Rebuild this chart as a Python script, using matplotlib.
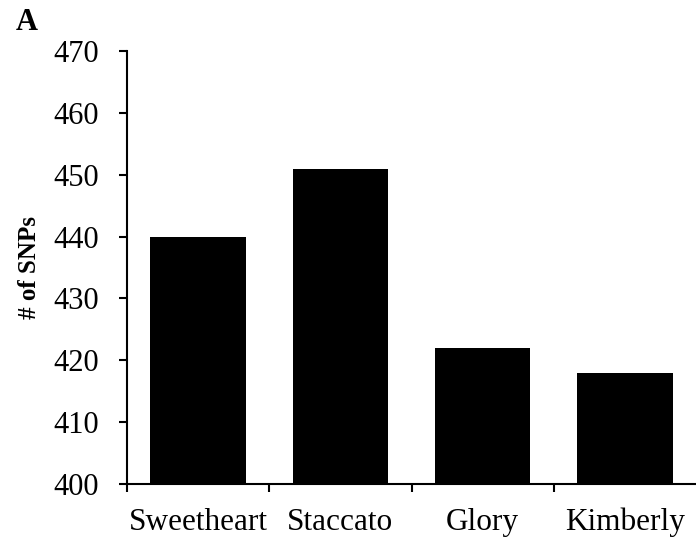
import matplotlib
matplotlib.use("Agg")
import matplotlib.pyplot as plt
import numpy as np

# cultivars and SNP counts
cultivars = ["Sweetheart", "Staccato", "Glory", "Kimberly"]
snps = [440, 451, 422, 418]
yticks = [400, 410, 420, 430, 440, 450, 460, 470]

plt.rcParams["font.family"] = ["Liberation Serif", "DejaVu Serif"]

fig = plt.figure(figsize=(6.96, 5.43), dpi=100)
ax = fig.add_axes([0.1825, 0.1087, 0.8175, 0.7973])

x = np.arange(len(cultivars))
ax.bar(x, snps, width=0.67, color="black", edgecolor="none")

ax.set_xlim(-0.5, len(cultivars) - 0.5)
ax.set_ylim(400, 470)
ax.set_yticks(yticks)
ax.tick_params(axis="y", direction="out", length=6, width=1.5, labelsize=22, pad=14)

# labels in the middle, tick marks between the categories
ax.set_xticks(x)
ax.set_xticklabels(cultivars)
ax.set_xticks(np.arange(len(cultivars)) - 0.5, minor=True)
ax.tick_params(axis="x", which="major", length=0, labelsize=22.5, pad=17)
ax.tick_params(axis="x", which="minor", direction="out", length=6, width=1.5)

for s in ["top", "right"]:
    ax.spines[s].set_visible(False)
ax.spines["left"].set_linewidth(1.5)
ax.spines["bottom"].set_linewidth(1.5)

ax.set_ylabel("# of SNPs", fontsize=18, fontweight="bold", labelpad=9)
fig.text(0.022, 0.945, "A", fontsize=22, fontweight="bold")

fig.savefig("out.png", dpi=100)
